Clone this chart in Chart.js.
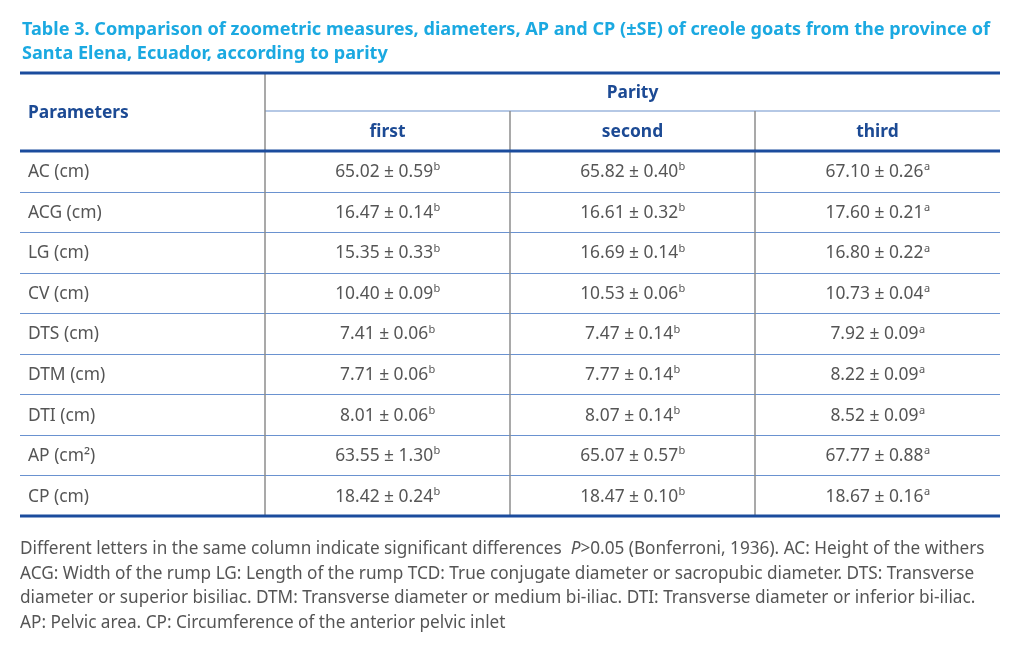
<!DOCTYPE html>
<html>
<head>
<meta charset="utf-8">
<script src="https://cdn.jsdelivr.net/npm/chart.js@4"></script>
<style>
  body { margin: 0; background: #fff; font-family: "Noto Sans", sans-serif; }
  #wrap { position: absolute; left: 0; top: 0; width: 1024px; height: 656px; }
  #title { position: absolute; left: 22px; top: 16px; width: 1000px; color: #1ba9e1; font-weight: bold; font-size: 18.1px; line-height: 24px; white-space: nowrap; }
  #note { position: absolute; left: 20px; top: 536px; width: 1004px; color: #555; font-size: 17.2px; line-height: 24.7px; white-space: nowrap; }
</style>
</head>
<body>
<div id="wrap"><canvas id="tableChart"></canvas></div>
<div id="title">Table 3. Comparison of zoometric measures, diameters, AP and CP (±SE) of creole goats from the province of<br>Santa Elena, Ecuador, according to parity</div>
<div id="note">Different letters in the same column indicate significant differences&nbsp; <i>P</i>&gt;0.05 (Bonferroni, 1936). AC: Height of the withers<br>ACG: Width of the rump LG: Length of the rump TCD: True conjugate diameter or sacropubic diameter. DTS: Transverse<br>diameter or superior bisiliac. DTM: Transverse diameter or medium bi-iliac. DTI: Transverse diameter or inferior bi-iliac.<br>AP: Pelvic area. CP: Circumference of the anterior pelvic inlet</div>
<script>
// table 3 - parity comparison
const parameters = ['AC (cm)', 'ACG (cm)', 'LG (cm)', 'CV (cm)', 'DTS (cm)', 'DTM (cm)', 'DTI (cm)', 'AP (cm²)', 'CP (cm)'];
const parity = ['first', 'second', 'third'];
const columns = ['Parameters'].concat(parity);

const firstMean = [65.02, 16.47, 15.35, 10.40, 7.41, 7.71, 8.01, 63.55, 18.42];
const firstSE = [0.59, 0.14, 0.33, 0.09, 0.06, 0.06, 0.06, 1.30, 0.24];
const secondMean = [65.82, 16.61, 16.69, 10.53, 7.47, 7.77, 8.07, 65.07, 18.47];
const secondSE = [0.40, 0.32, 0.14, 0.06, 0.14, 0.14, 0.14, 0.57, 0.10];
const thirdMean = [67.10, 17.60, 16.80, 10.73, 7.92, 8.22, 8.52, 67.77, 18.67];
const thirdSE = [0.26, 0.21, 0.22, 0.04, 0.09, 0.09, 0.09, 0.88, 0.16];
const letters = ['b', 'b', 'a'];

const means = [firstMean, secondMean, thirdMean];
const errors = [firstSE, secondSE, thirdSE];

const FONT = '"Noto Sans", sans-serif';
const HEADER_H = 78;
const BODY_SIZE = 17.4;

const tablePlugin = {
    id: 'tablePlugin',
    afterDatasetsDraw(chart) {
        const ctx = chart.ctx;
        const xs = chart.scales.x;
        const ys = chart.scales.y;
        const area = chart.chartArea;
        const top = area.top - HEADER_H;
        const colEdge = j => (xs.getPixelForValue(j - 1) + xs.getPixelForValue(j)) / 2;
        const rowEdge = i => (ys.getPixelForValue(i - 1) + ys.getPixelForValue(i)) / 2;

        ctx.save();
        // row lines
        ctx.strokeStyle = '#6a92d0';
        ctx.lineWidth = 1.2;
        for (let i = 1; i < parameters.length; i++) {
            const y = Math.round(rowEdge(i)) + 0.5;
            ctx.beginPath();
            ctx.moveTo(area.left, y);
            ctx.lineTo(area.right, y);
            ctx.stroke();
        }
        // parity sub line
        const midHead = top + HEADER_H / 2 - 1;
        ctx.strokeStyle = '#9db6dc';
        ctx.lineWidth = 1.5;
        ctx.beginPath();
        ctx.moveTo(colEdge(1), midHead);
        ctx.lineTo(area.right, midHead);
        ctx.stroke();
        // vertical lines
        ctx.strokeStyle = '#8c8c8c';
        ctx.lineWidth = 1.5;
        for (let j = 1; j < columns.length; j++) {
            const x = Math.round(colEdge(j));
            ctx.beginPath();
            ctx.moveTo(x, j === 1 ? top : midHead);
            ctx.lineTo(x, area.bottom);
            ctx.stroke();
        }
        // thick rules
        ctx.strokeStyle = '#1b4c9d';
        ctx.lineWidth = 3;
        [top, area.top, area.bottom].forEach(y => {
            ctx.beginPath();
            ctx.moveTo(area.left, y);
            ctx.lineTo(area.right, y);
            ctx.stroke();
        });

        // header text
        ctx.fillStyle = '#1c4a94';
        ctx.font = 'bold ' + BODY_SIZE + 'px ' + FONT;
        ctx.textBaseline = 'middle';
        ctx.textAlign = 'left';
        ctx.fillText(columns[0], area.left + 8, top + HEADER_H / 2 + 1);
        ctx.textAlign = 'center';
        ctx.fillText('Parity', (colEdge(1) + area.right) / 2, top + HEADER_H / 4 + 1);
        parity.forEach((p, j) => {
            ctx.fillText(p, xs.getPixelForValue(j + 1), top + HEADER_H * 3 / 4 + 1);
        });

        // body text
        ctx.fillStyle = '#555';
        ctx.textAlign = 'left';
        ctx.font = BODY_SIZE + 'px ' + FONT;
        parameters.forEach((p, i) => {
            ctx.fillText(p, area.left + 8, ys.getPixelForValue(i) + 1);
        });
        chart.data.datasets.forEach((ds, j) => {
            const meta = chart.getDatasetMeta(j);
            meta.data.forEach((pt, i) => {
                const main = means[j][i].toFixed(2) + ' ± ' + errors[j][i].toFixed(2);
                ctx.font = BODY_SIZE + 'px ' + FONT;
                const w1 = ctx.measureText(main).width;
                ctx.font = '11px ' + FONT;
                const w2 = ctx.measureText(letters[j]).width;
                const x0 = pt.x - (w1 + w2) / 2;
                ctx.font = BODY_SIZE + 'px ' + FONT;
                ctx.fillText(main, x0, pt.y + 1);
                ctx.font = '11px ' + FONT;
                ctx.fillText(letters[j], x0 + w1 + 0.5, pt.y - 4);
            });
        });
        ctx.restore();
    }
};

const chart = new Chart(document.getElementById('tableChart'), {
    type: 'scatter',
    data: {
        datasets: parity.map((p, j) => ({
            label: p,
            data: parameters.map(param => ({ x: p, y: param })),
            pointRadius: 0
        }))
    },
    options: {
        responsive: true,
        maintainAspectRatio: false,
        animation: false,
        layout: { padding: { left: 20, right: 24, top: 151, bottom: 140 } },
        plugins: { legend: { display: false }, tooltip: { enabled: false } },
        scales: {
            x: { type: 'category', labels: columns, offset: true, display: false },
            y: { type: 'category', labels: parameters, offset: true, display: false }
        }
    },
    plugins: [tablePlugin]
});
</script>
</body>
</html>
